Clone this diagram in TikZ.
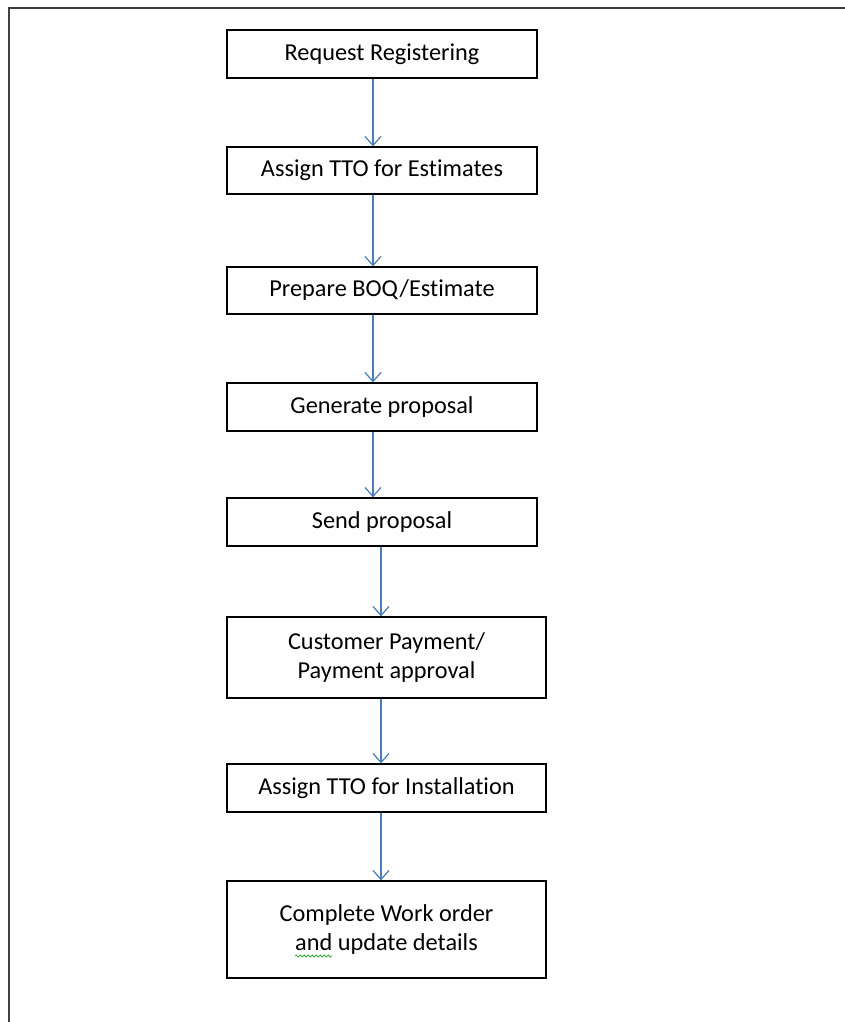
\documentclass[tikz,border=0pt]{standalone}
\usepackage{fontspec}
\setmainfont{Carlito}[Ligatures={NoCommon}]
\usetikzlibrary{arrows.meta,decorations.pathmorphing}
\definecolor{flowblue}{RGB}{74,126,187}
\definecolor{framegray}{RGB}{64,64,64}
\definecolor{spellgreen}{RGB}{60,170,60}
\begin{document}
\begin{tikzpicture}[x=1pt,y=-1pt,
  stepbox/.style={draw=black, line width=1.3pt, align=center,
    font=\fontsize{24.3}{29}\selectfont, inner sep=0pt},
  narrow/.style={minimum width=310},
  wide/.style={minimum width=319},
  flow/.style={draw=flowblue, line width=1.2pt,
    -{Straight Barb[length=9pt,width=16pt,line width=1.2pt]}}]
\useasboundingbox (0,0) rectangle (845,1022);
% page frame (open towards right and bottom)
\draw[framegray, line width=2pt] (9,1030) -- (9,8) -- (850,8);

% process steps
\node[stepbox, narrow, minimum height=48] (b1) at (382,54)    {Request Registering};
\node[stepbox, narrow, minimum height=47] (b2) at (382,170.5) {Assign TTO for Estimates};
\node[stepbox, narrow, minimum height=47] (b3) at (382,290.5) {Prepare BOQ/Estimate};
\node[stepbox, narrow, minimum height=48] (b4) at (382,407)   {Generate proposal};
\node[stepbox, narrow, minimum height=48] (b5) at (382,522)   {Send proposal};
\node[stepbox, wide, minimum height=81] (b6) at (386.5,657.5) {Customer Payment/\\Payment approval};
\node[stepbox, wide, minimum height=48] (b7) at (386.5,788)   {Assign TTO for Installation};
\node[stepbox, wide, minimum height=97] (b8) at (386.5,929.5) {Complete Work order\\and update details};

% vertical axes of the connectors
\coordinate (axA) at (373,0);
\coordinate (axB) at (381,0);

\draw[flow] (b1.south -| axA) -- (b2.north -| axA);
\draw[flow] (b2.south -| axA) -- (b3.north -| axA);
\draw[flow] (b3.south -| axA) -- (b4.north -| axA);
\draw[flow] (b4.south -| axA) -- (b5.north -| axA);
\draw[flow] (b5.south -| axB) -- (b6.north -| axB);
\draw[flow] (b6.south -| axB) -- (b7.north -| axB);
\draw[flow] (b7.south -| axB) -- (b8.north -| axB);

% spell-check squiggle under "and"
\draw[spellgreen, line width=0.8pt, decorate,
  decoration={snake, amplitude=1pt, segment length=4pt}] (295,956) -- (332,956);
\end{tikzpicture}
\end{document}
